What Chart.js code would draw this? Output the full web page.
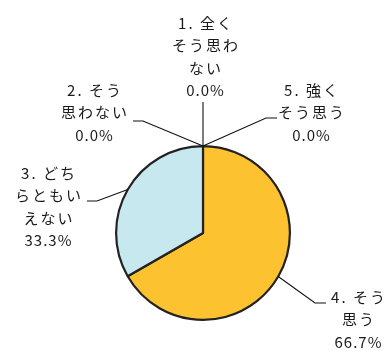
<!DOCTYPE html>
<html>
<head>
<meta charset="utf-8">
<script src="https://cdn.jsdelivr.net/npm/chart.js@4.4.1/dist/chart.umd.min.js"></script>
<style>
  html, body { margin: 0; padding: 0; background: #fff; }
  #wrap { width: 388px; height: 351px; }
</style>
</head>
<body>
<div id="wrap"><canvas id="myChart"></canvas></div>
<script>
// clockwise from 12 o'clock
const categories = ['5. 強くそう思う', '4. そう思う', '3. どちらともいえない', '2. そう思わない', '1. 全くそう思わない'];
const labelLines = [
  ['5. 強く', 'そう思う'],
  ['4. そう', '思う'],
  ['3. どち', 'らともい', 'えない'],
  ['2. そう', '思わない'],
  ['1. 全く', 'そう思わ', 'ない']
];
const percents = [0, 66.7, 33.3, 0, 0];
const colors = ['#4f81bd', '#fdc230', '#c8e8ef', '#f79646', '#9bbb59'];

// where each label sits and how its leader line bends
const labelPos = [
  { x: 311, y: 90, elbow: [266, 118], end: [277, 118] },
  { x: 358, y: 297, elbow: [315, 303], end: [326, 303] },
  { x: 48, y: 173, elbow: [97, 201], end: [87, 201] },
  { x: 94, y: 90, elbow: [143, 121], end: [133, 121] },
  { x: 205, y: 23, elbow: [203, 102], end: null }
];

const pieLabels = {
  id: 'pieLabels',
  afterDraw(chart) {
    const c = chart.ctx;
    const meta = chart.getDatasetMeta(0);
    c.save();
    c.strokeStyle = '#111';
    c.lineWidth = 1.1;
    c.fillStyle = '#1a1a1a';
    c.textAlign = 'center';
    c.textBaseline = 'middle';
    meta.data.forEach((arc, i) => {
      const p = labelPos[i];
      const mid = (arc.startAngle + arc.endAngle) / 2;
      const ax = arc.x + Math.cos(mid) * arc.outerRadius;
      const ay = arc.y + Math.sin(mid) * arc.outerRadius;
      c.beginPath();
      c.moveTo(ax, ay);
      c.lineTo(p.elbow[0], p.elbow[1]);
      if (p.end) c.lineTo(p.end[0], p.end[1]);
      c.stroke();
      c.font = '15px "Noto Sans CJK JP"';
      c.letterSpacing = '2px';
      labelLines[i].forEach((t, k) => c.fillText(t, p.x + 1, p.y + k * 22.5));
      c.letterSpacing = '1px';
      c.fillText(percents[i].toFixed(1) + '%', p.x + 0.5, p.y + labelLines[i].length * 22.5);
    });
    c.restore();
  }
};

new Chart(document.getElementById('myChart'), {
  type: 'pie',
  data: {
    labels: categories,
    datasets: [{
      data: percents,
      backgroundColor: colors,
      borderColor: '#222',
      borderWidth: (ctx) => ctx.raw > 0 ? 2.2 : 0
    }]
  },
  options: {
    responsive: true,
    maintainAspectRatio: false,
    animation: false,
    layout: { padding: { left: 115, right: 97, top: 145, bottom: 30 } },
    plugins: {
      legend: { display: false },
      tooltip: { enabled: false }
    }
  },
  plugins: [pieLabels]
});
</script>
</body>
</html>
